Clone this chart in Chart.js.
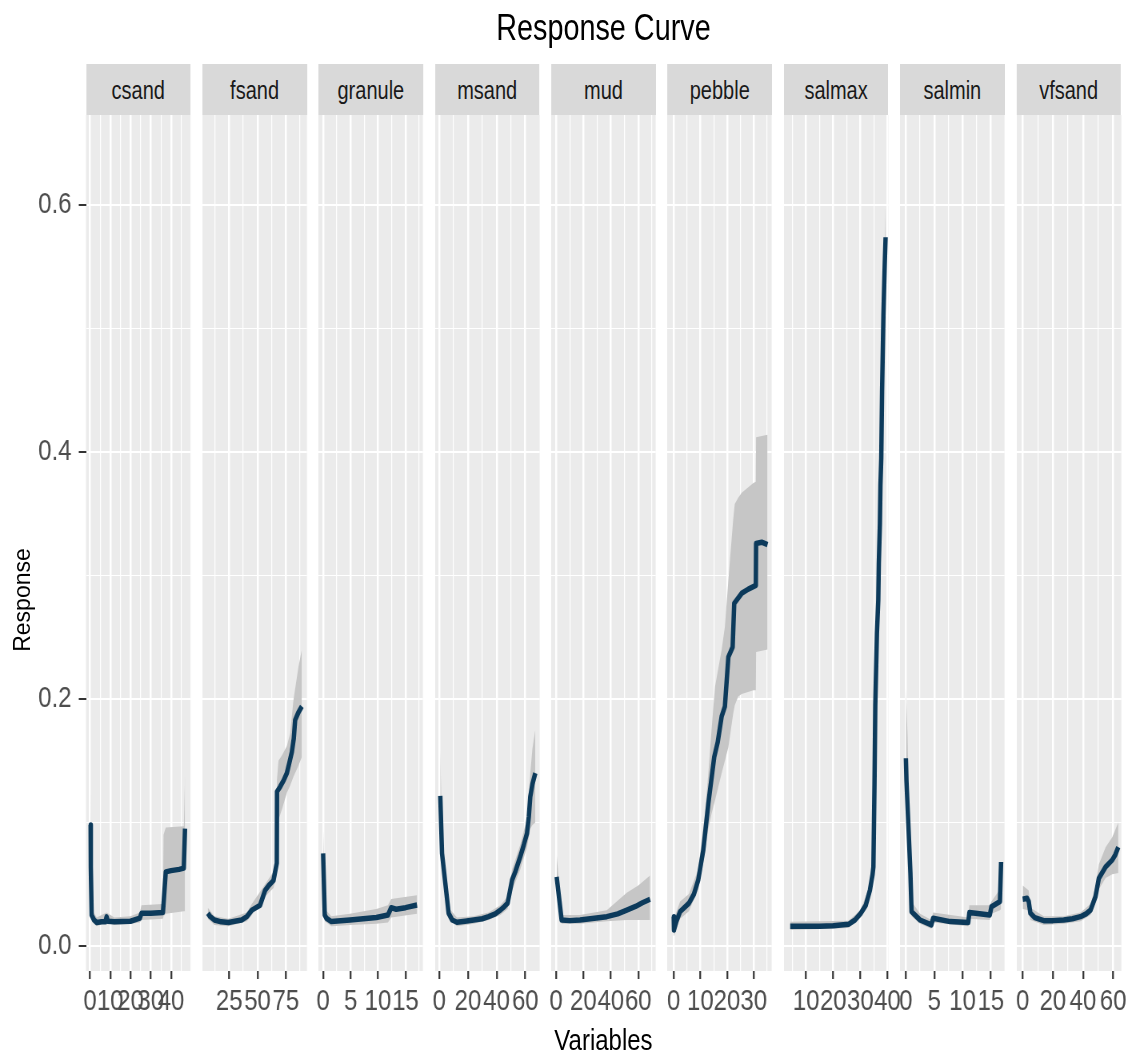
<!DOCTYPE html>
<html>
<head>
<meta charset="utf-8">
<title>Response Curve</title>
<script src="https://cdn.jsdelivr.net/npm/chart.js"></script>
<style>
  html, body { margin: 0; padding: 0; background: #ffffff; width: 1133px; height: 1057px; overflow: hidden; }
  body { position: relative; font-family: "Liberation Sans", Arial, sans-serif; }
  #stage {
    position: absolute; left: 0; top: 0; width: 1417px; height: 1057px;
    transform: scaleX(0.8); transform-origin: 0 0;
  }
  #stage canvas { position: absolute; }
  .strip {
    position: absolute; background: #d9d9d9; color: #1a1a1a;
    font-size: 25px; text-align: center; box-sizing: border-box; white-space: nowrap;
  }
  .label { position: absolute; color: #000000; white-space: nowrap; text-align: center; }
</style>
</head>
<body>
<div id="stage">
  <div id="title" class="label">Response Curve</div>
  <div id="xlab" class="label">Variables</div>
</div>
<div id="ylab" class="label">Response</div>
<script>
// ---- facets ----
const categories = ['csand', 'fsand', 'granule', 'msand', 'mud', 'pebble', 'salmax', 'salmin', 'vfsand'];

// ---- fitted response (line) and confidence band, one set per facet ----
const csandLineX = [0.3, 0.4, 0.8, 2, 3.3, 5.7, 7.6, 8.2, 8.8, 12, 16, 20, 24.6, 25.4, 30, 36, 37.4, 40, 44, 46.3, 46.9];
const csandLineY = [0.098, 0.064, 0.025, 0.021, 0.019, 0.0195, 0.0195, 0.0235, 0.020, 0.0195, 0.0198, 0.020, 0.0225, 0.0265, 0.0265, 0.027, 0.060, 0.061, 0.062, 0.063, 0.095];
const csandBandX = [0.3, 0.4, 0.8, 3.3, 8.2, 12, 20, 24.6, 25.4, 36, 36.3, 37.4, 46.3, 46.9];
const csandBandLo = [0.088, 0.058, 0.021, 0.016, 0.019, 0.017, 0.018, 0.019, 0.021, 0.022, 0.024, 0.026, 0.028, 0.028];
const csandBandHi = [0.132, 0.100, 0.030, 0.023, 0.027, 0.023, 0.024, 0.027, 0.033, 0.034, 0.090, 0.096, 0.097, 0.138];

const fsandLineX = [6.2, 8, 12, 18, 24.4, 30, 36, 40.6, 45, 52.3, 56.7, 60, 64.1, 67.0, 67.2, 70, 73, 75.9, 78, 80.3, 82, 83.2, 86, 89.1];
const fsandLineY = [0.0265, 0.024, 0.021, 0.0195, 0.019, 0.020, 0.021, 0.0237, 0.029, 0.033, 0.045, 0.049, 0.053, 0.067, 0.125, 0.129, 0.134, 0.140, 0.148, 0.157, 0.168, 0.183, 0.189, 0.194];
const fsandBandX = [6.2, 12, 24.4, 40.6, 45, 56.7, 64.1, 67.0, 67.2, 68.5, 72, 75.9, 78.8, 81.7, 86.1, 89.1];
const fsandBandLo = [0.022, 0.017, 0.016, 0.020, 0.025, 0.040, 0.047, 0.058, 0.100, 0.102, 0.112, 0.124, 0.130, 0.137, 0.146, 0.153];
const fsandBandHi = [0.031, 0.024, 0.022, 0.027, 0.034, 0.050, 0.060, 0.075, 0.135, 0.150, 0.155, 0.162, 0.172, 0.199, 0.226, 0.240];

const granuleLineX = [0, 0.3, 0.6, 1.5, 4.9, 9.7, 11.8, 12.4, 13.3, 15, 17.1];
const granuleLineY = [0.075, 0.025, 0.0224, 0.0197, 0.021, 0.023, 0.025, 0.031, 0.0297, 0.031, 0.0332];
const granuleBandX = [0, 0.3, 1.5, 4.9, 9.7, 11.8, 12.4, 17.1];
const granuleBandLo = [0.060, 0.020, 0.016, 0.017, 0.018, 0.019, 0.023, 0.026];
const granuleBandHi = [0.097, 0.030, 0.024, 0.026, 0.030, 0.033, 0.038, 0.041];

const msandLineX = [0.7, 1.9, 4.2, 6.5, 9, 12.3, 18, 24, 30, 34.4, 39, 42.6, 45.5, 47.7, 50.8, 53, 56.5, 59, 61.2, 62.5, 63.5, 65, 67];
const msandLineY = [0.1215, 0.075, 0.0508, 0.0265, 0.021, 0.0192, 0.020, 0.021, 0.022, 0.0237, 0.026, 0.029, 0.032, 0.0346, 0.0534, 0.060, 0.0723, 0.082, 0.0912, 0.105, 0.121, 0.131, 0.140];
const msandBandX = [0.7, 1.9, 4.2, 6.5, 12.3, 24, 34.4, 42.6, 47.7, 50.8, 56.5, 61.2, 63.5, 65, 67];
const msandBandLo = [0.095, 0.065, 0.044, 0.022, 0.016, 0.018, 0.021, 0.025, 0.030, 0.045, 0.062, 0.080, 0.095, 0.098, 0.100];
const msandBandHi = [0.159, 0.090, 0.058, 0.031, 0.023, 0.024, 0.027, 0.033, 0.040, 0.062, 0.082, 0.103, 0.140, 0.160, 0.175];

const mudLineX = [0.5, 4.1, 10, 17.5, 25, 37, 45, 51.6, 58, 63, 68.6];
const mudLineY = [0.056, 0.021, 0.0205, 0.021, 0.022, 0.0237, 0.026, 0.029, 0.032, 0.035, 0.0378];
const mudBandX = [0.5, 4.1, 17.5, 37, 51.6, 60, 68.6];
const mudBandLo = [0.045, 0.018, 0.018, 0.020, 0.021, 0.021, 0.021];
const mudBandHi = [0.074, 0.025, 0.025, 0.029, 0.043, 0.049, 0.057];

const pebbleLineX = [0, 0.1, 1, 2.4, 5.7, 7.6, 9.2, 11.1, 13.0, 15.2, 16.5, 18.0, 19.2, 20.5, 22.1, 22.7, 25.5, 28, 30.8, 30.9, 33, 35.2];
const pebbleLineY = [0.0237, 0.013, 0.020, 0.0278, 0.0346, 0.042, 0.0534, 0.0777, 0.1155, 0.153, 0.165, 0.186, 0.194, 0.234, 0.242, 0.2775, 0.2856, 0.289, 0.292, 0.326, 0.327, 0.325];
const pebbleBandX = [0, 0.1, 2.4, 5.7, 9.2, 11.7, 13.0, 14.2, 15.5, 18, 19.2, 20.5, 21.1, 22.3, 22.9, 24.2, 25.5, 29.9, 30.8, 30.9, 35.2];
const pebbleBandLo = [0.015, 0.008, 0.022, 0.028, 0.046, 0.075, 0.095, 0.107, 0.118, 0.140, 0.150, 0.161, 0.170, 0.188, 0.195, 0.202, 0.204, 0.207, 0.207, 0.238, 0.240];
const pebbleBandHi = [0.030, 0.022, 0.036, 0.042, 0.062, 0.107, 0.140, 0.175, 0.210, 0.240, 0.2585, 0.296, 0.3125, 0.345, 0.358, 0.363, 0.367, 0.375, 0.376, 0.412, 0.414];

const salmaxLineX = [4.1, 10, 15, 20, 25.6, 28, 30, 32, 33.5, 34.5, 34.8, 35.2, 35.5, 36.1, 36.6, 36.8, 37.2, 37.4, 37.7, 38.0, 38.5, 39.0, 39.3];
const salmaxLineY = [0.016, 0.016, 0.016, 0.0163, 0.0175, 0.021, 0.026, 0.033, 0.045, 0.058, 0.064, 0.130, 0.195, 0.253, 0.280, 0.310, 0.342, 0.373, 0.395, 0.449, 0.511, 0.553, 0.574];
const salmaxBandX = [4.1, 25.6, 30, 33.5, 34.8, 35.5, 36.6, 38.0, 39.0, 39.3];
const salmaxBandLo = [0.013, 0.0145, 0.023, 0.041, 0.060, 0.190, 0.274, 0.443, 0.547, 0.568];
const salmaxBandHi = [0.0195, 0.0205, 0.029, 0.049, 0.068, 0.200, 0.286, 0.455, 0.561, 0.598];

const salminLineX = [0, 0.1, 0.4, 0.8, 1.0, 2.5, 4.5, 4.8, 7.8, 11, 11.2, 14.8, 15.1, 16.6, 16.8];
const salminLineY = [0.152, 0.134, 0.102, 0.059, 0.0278, 0.021, 0.017, 0.0224, 0.0197, 0.0189, 0.027, 0.025, 0.0318, 0.036, 0.068];
const salminBandX = [0, 0.3, 0.5, 1.0, 2.5, 4.5, 4.8, 11, 11.2, 14.8, 15.1, 16.6, 16.8];
const salminBandLo = [0.120, 0.100, 0.085, 0.024, 0.018, 0.014, 0.019, 0.016, 0.022, 0.021, 0.026, 0.029, 0.030];
const salminBandHi = [0.209, 0.170, 0.120, 0.036, 0.026, 0.021, 0.027, 0.023, 0.033, 0.033, 0.036, 0.046, 0.048];

const vfsandLineX = [0, 2.9, 4, 5.1, 8, 14, 20, 27.2, 33, 38.3, 42, 45, 48.3, 50.5, 55, 59.4, 61.5, 63.4];
const vfsandLineY = [0.0378, 0.0386, 0.036, 0.0265, 0.023, 0.0205, 0.0205, 0.021, 0.022, 0.0237, 0.026, 0.029, 0.040, 0.0548, 0.064, 0.0696, 0.074, 0.080];
const vfsandBandX = [0, 4, 5.1, 14, 27.2, 38.3, 45, 48.3, 50.5, 55, 59.4, 63.4];
const vfsandBandLo = [0.030, 0.029, 0.021, 0.017, 0.018, 0.020, 0.025, 0.035, 0.046, 0.055, 0.058, 0.059];
const vfsandBandHi = [0.049, 0.045, 0.031, 0.024, 0.024, 0.027, 0.034, 0.048, 0.066, 0.080, 0.088, 0.100];

// ---- axes ----
const xLimits = [[-1.98, 49.6], [1.45, 93.6], [-0.86, 18.17], [-2.86, 70.06], [-3.5, 72.7], [-2.44, 36.75], [1.81, 40.37], [-1.04, 17.4], [-3.92, 65.4]];
const xMajorTicks = [[0, 10, 20, 30, 40], [25, 50, 75], [0, 5, 10, 15], [0, 20, 40, 60], [0, 20, 40, 60], [0, 10, 20, 30], [10, 20, 30, 40], [0, 5, 10, 15], [0, 20, 40, 60]];
const xMinorTicks = [[5, 15, 25, 35, 45], [12.5, 37.5, 62.5, 87.5], [2.5, 7.5, 12.5, 17.5], [10, 30, 50], [10, 30, 50, 70], [5, 15, 25, 35], [5, 15, 25, 35], [2.5, 7.5, 12.5], [10, 30, 50]];
const yLimits = [-0.0203, 0.673];
const yMajorTicks = [0, 0.2, 0.4, 0.6];
const yMinorTicks = [0.1, 0.3, 0.5];

const lineSeries = {
  csand: [csandLineX, csandLineY], fsand: [fsandLineX, fsandLineY], granule: [granuleLineX, granuleLineY],
  msand: [msandLineX, msandLineY], mud: [mudLineX, mudLineY], pebble: [pebbleLineX, pebbleLineY],
  salmax: [salmaxLineX, salmaxLineY], salmin: [salminLineX, salminLineY], vfsand: [vfsandLineX, vfsandLineY]
};
const bandSeries = {
  csand: [csandBandX, csandBandLo, csandBandHi], fsand: [fsandBandX, fsandBandLo, fsandBandHi],
  granule: [granuleBandX, granuleBandLo, granuleBandHi], msand: [msandBandX, msandBandLo, msandBandHi],
  mud: [mudBandX, mudBandLo, mudBandHi], pebble: [pebbleBandX, pebbleBandLo, pebbleBandHi],
  salmax: [salmaxBandX, salmaxBandLo, salmaxBandHi], salmin: [salminBandX, salminBandLo, salminBandHi],
  vfsand: [vfsandBandX, vfsandBandLo, vfsandBandHi]
};

// ---- page geometry (screen px; x values are divided by SX inside the squeezed stage) ----
const SX = 0.8;
const PANEL_LEFT0 = 86, PANEL_STEP = 116.3, PANEL_W = 104.5;
const PANEL_TOP = 115, PANEL_BOTTOM = 971, STRIP_TOP = 64;
const PAD = 40, PAD_TOP = 24, X_AXIS_H = 70;
const FONT = '"Liberation Sans", Arial, sans-serif';
const LINE_COLOR = '#0c3a5b', BAND_COLOR = '#c6c6c6';

Chart.defaults.font.family = FONT;

const stage = document.getElementById('stage');
const toPoints = (xs, ys) => xs.map((x, k) => ({ x: x, y: ys[k] }));
const isIn = (list, v) => list.some(t => Math.abs(t - v) < 1e-9);

// grey panel background behind the grid
const panelBackground = {
  id: 'panelBackground',
  beforeDraw(chart) {
    const a = chart.chartArea, c = chart.ctx;
    c.save();
    c.fillStyle = '#ebebeb';
    c.fillRect(a.left, a.top, a.right - a.left, a.bottom - a.top);
    c.restore();
  }
};

categories.forEach((name, i) => {
  const left = (PANEL_LEFT0 + PANEL_STEP * i) / SX;
  const w = PANEL_W / SX;
  const first = i === 0;
  const major = xMajorTicks[i], minor = xMinorTicks[i];
  const allX = major.concat(minor).sort((a, b) => a - b);
  const allY = yMajorTicks.concat(yMinorTicks).sort((a, b) => a - b);

  const canvasLeft = first ? 0 : left - PAD;
  const canvasW = Math.ceil(first ? left + w + PAD : w + 2 * PAD);
  const padLeft = first ? 0 : PAD;
  const padRight = canvasW - (left - canvasLeft) - w;
  const canvasH = PAD_TOP + (PANEL_BOTTOM - PANEL_TOP) + X_AXIS_H;

  const cv = document.createElement('canvas');
  cv.width = canvasW; cv.height = canvasH;
  cv.style.left = canvasLeft + 'px';
  cv.style.top = (PANEL_TOP - PAD_TOP) + 'px';
  cv.style.width = canvasW + 'px';
  cv.style.height = canvasH + 'px';
  stage.appendChild(cv);

  // facet strip
  const strip = document.createElement('div');
  strip.className = 'strip';
  strip.textContent = name;
  strip.style.left = left + 'px';
  strip.style.width = w + 'px';
  strip.style.top = STRIP_TOP + 'px';
  strip.style.height = (PANEL_TOP - STRIP_TOP) + 'px';
  strip.style.paddingTop = '2px';
  strip.style.lineHeight = (PANEL_TOP - STRIP_TOP - 2) + 'px';
  stage.appendChild(strip);

  const [lx, ly] = lineSeries[name];
  const [bx, blo, bhi] = bandSeries[name];

  const yScale = first ? {
    type: 'linear', position: 'left', min: yLimits[0], max: yLimits[1],
    afterBuildTicks: s => { s.ticks = allY.map(v => ({ value: v })); },
    afterFit: s => { s.width = left; s.paddingTop = 0; s.paddingBottom = 0; },
    border: { display: false },
    grid: {
      color: '#ffffff',
      lineWidth: c => (c.tick && isIn(yMajorTicks, c.tick.value)) ? 2 : 1,
      drawTicks: true, tickLength: 9, tickWidth: 2,
      tickColor: c => (c.tick && isIn(yMajorTicks, c.tick.value)) ? '#333333' : 'rgba(0,0,0,0)'
    },
    ticks: {
      color: '#4d4d4d', padding: 9, font: { family: FONT, size: 30 },
      callback: v => isIn(yMajorTicks, v) ? v.toFixed(1) : ''
    }
  } : {
    type: 'linear', position: 'left', min: yLimits[0], max: yLimits[1],
    afterBuildTicks: s => { s.ticks = allY.map(v => ({ value: v })); },
    afterFit: s => { s.width = 0; s.paddingTop = 0; s.paddingBottom = 0; },
    border: { display: false },
    grid: {
      color: '#ffffff',
      lineWidth: c => (c.tick && isIn(yMajorTicks, c.tick.value)) ? 2 : 1,
      drawTicks: false
    },
    ticks: { display: false }
  };

  new Chart(cv, {
    type: 'line',
    data: {
      datasets: [
        {
          label: name, data: toPoints(lx, ly), borderColor: LINE_COLOR, borderWidth: 5.5,
          pointRadius: 0, tension: 0, fill: false, borderJoinStyle: 'round', borderCapStyle: 'butt', order: 0
        },
        {
          label: name + ' upper', data: toPoints(bx, bhi), borderWidth: 0, borderColor: 'rgba(0,0,0,0)',
          backgroundColor: BAND_COLOR, pointRadius: 0, tension: 0, fill: '+1', order: 1
        },
        {
          label: name + ' lower', data: toPoints(bx, blo), borderWidth: 0, borderColor: 'rgba(0,0,0,0)',
          pointRadius: 0, tension: 0, fill: false, order: 2
        }
      ]
    },
    options: {
      responsive: false, animation: false, devicePixelRatio: 1, events: [],
      layout: { padding: { top: PAD_TOP, left: padLeft, right: padRight, bottom: 0 } },
      plugins: { legend: { display: false }, tooltip: { enabled: false }, title: { display: false } },
      scales: {
        x: {
          type: 'linear', position: 'bottom', min: xLimits[i][0], max: xLimits[i][1],
          afterBuildTicks: s => { s.ticks = allX.map(v => ({ value: v })); },
          afterFit: s => { s.height = X_AXIS_H; s.paddingLeft = 0; s.paddingRight = 0; },
          border: { display: false },
          grid: {
            color: '#ffffff',
            lineWidth: c => (c.tick && isIn(major, c.tick.value)) ? 2.5 : 1.25,
            drawTicks: true, tickLength: 8, tickWidth: 2.2,
            tickColor: c => (c.tick && isIn(major, c.tick.value)) ? '#333333' : 'rgba(0,0,0,0)'
          },
          ticks: {
            autoSkip: false, maxRotation: 0, minRotation: 0, padding: 5,
            color: '#4d4d4d', font: { family: FONT, size: 30 },
            callback: v => isIn(major, v) ? String(v) : ''
          }
        },
        y: yScale
      }
    },
    plugins: [panelBackground]
  });
});

// ---- titles ----
const panelsCenter = (PANEL_LEFT0 + (PANEL_LEFT0 + PANEL_STEP * 8 + PANEL_W)) / 2 / SX;
const title = document.getElementById('title');
title.style.fontSize = '36px'; title.style.lineHeight = '36px';
title.style.width = '600px'; title.style.left = (panelsCenter - 300) + 'px'; title.style.top = '10px';

const xlab = document.getElementById('xlab');
xlab.style.fontSize = '30px'; xlab.style.lineHeight = '30px';
xlab.style.width = '400px'; xlab.style.left = (panelsCenter - 200) + 'px'; xlab.style.top = '1025px';

// y-axis title, rotated, drawn at screen scale
const ylab = document.getElementById('ylab');
ylab.style.fontSize = '23px'; ylab.style.lineHeight = '24px'; ylab.style.width = '200px';
ylab.style.left = (22 - 100) + 'px';
ylab.style.top = (600 - 12) + 'px';
ylab.style.transform = 'rotate(-90deg)';
ylab.style.transformOrigin = '50% 50%';
</script>
</body>
</html>
